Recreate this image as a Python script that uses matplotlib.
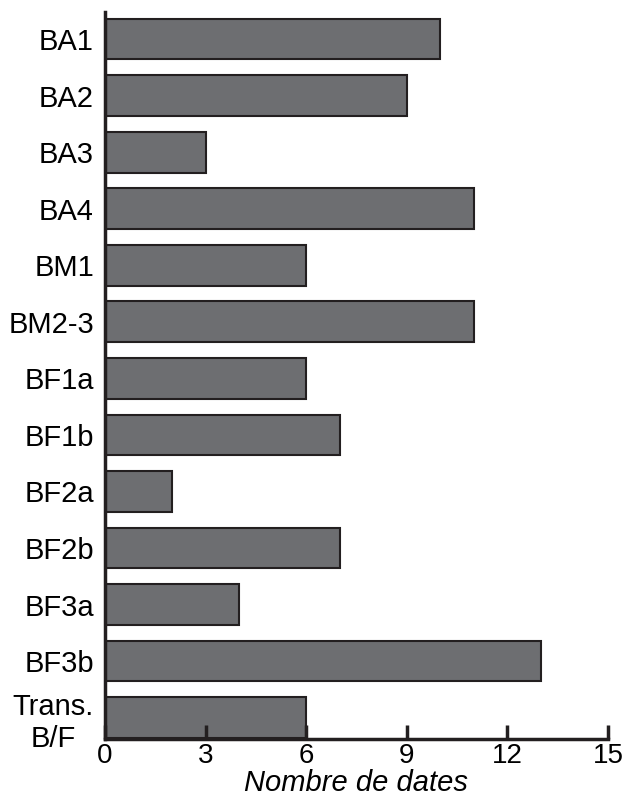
import matplotlib

matplotlib.use("Agg")

import matplotlib.pyplot as plt

plt.rcParams["font.family"] = ["Liberation Sans", "DejaVu Sans"]

phases = ["BA1", "BA2", "BA3", "BA4", "BM1", "BM2-3", "BF1a", "BF1b",
          "BF2a", "BF2b", "BF3a", "BF3b", "Trans.\nB/F"]
dates = [10, 9, 3, 11, 6, 11, 6, 7, 2, 7, 4, 13, 6]
xticks = [0, 3, 6, 9, 12, 15]

fig = plt.figure(figsize=(6.27, 8.01), dpi=100)
ax = fig.add_axes([0.1675, 0.0775, 0.802, 0.908])

ypos = list(range(len(phases)))
ax.barh(ypos, dates, height=0.72, color="#6d6e71", edgecolor="#231f20",
        linewidth=1.5)

ax.set_xlim(0, 15)
ax.set_ylim(12.376, -0.486)
ax.set_xticks(xticks)
ax.set_yticks(ypos)
ax.set_yticklabels(phases, ha="right", multialignment="center")
ax.tick_params(axis="y", length=0, labelsize=21, pad=8)
ax.tick_params(axis="x", direction="in", length=10, width=2.5,
               labelsize=20, pad=3, color="#231f20")
ax.set_xlabel("Nombre de dates", fontsize=21, style="italic", labelpad=0)

for side in ("top", "right"):
    ax.spines[side].set_visible(False)
for side in ("left", "bottom"):
    ax.spines[side].set_linewidth(2.5)
    ax.spines[side].set_color("#231f20")

fig.savefig("out.png", dpi=100)
plt.close(fig)
